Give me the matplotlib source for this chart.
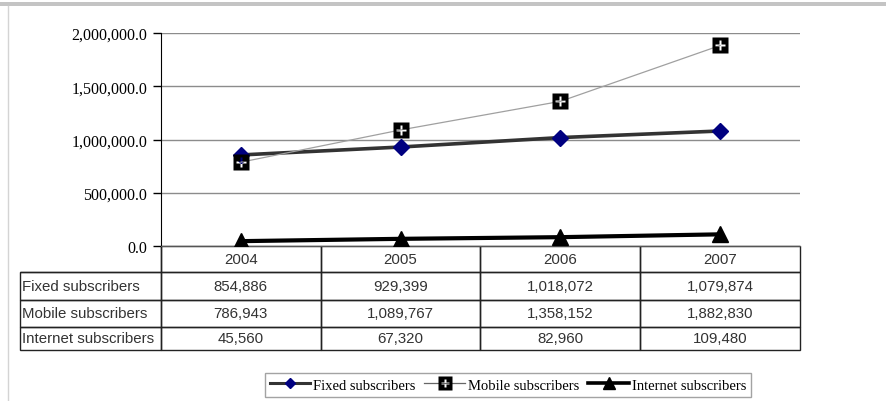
import matplotlib.pyplot as plt
from matplotlib.lines import Line2D
from matplotlib.patches import Rectangle
from matplotlib.path import Path
from matplotlib.table import Table
from matplotlib.ticker import FuncFormatter

anos = ['2004', '2005', '2006', '2007']
series_nomes = ['Fixed subscribers', 'Mobile subscribers', 'Internet subscribers']
fixos = [854886, 929399, 1018072, 1079874]
moveis = [786943, 1089767, 1358152, 1882830]
internet = [45560, 67320, 82960, 109480]
y_ticks = [0, 500000, 1000000, 1500000, 2000000]

W, H = 887, 402
fig = plt.figure(figsize=(W / 100, H / 100), dpi=100)

# marcador: quadrado preto com "+" vazado (sentidos opostos -> furo)
a, e = 0.17, 0.62
quad = [(-1, -1), (1, -1), (1, 1), (-1, 1), (-1, -1)]
mais = [(-a, -e), (-a, -a), (-e, -a), (-e, a), (-a, a), (-a, e), (a, e),
        (a, a), (e, a), (e, -a), (a, -a), (a, -e), (-a, -e)]
codes = ([Path.MOVETO] + [Path.LINETO] * 3 + [Path.CLOSEPOLY] +
         [Path.MOVETO] + [Path.LINETO] * 11 + [Path.CLOSEPOLY])
marcador_movel = Path(quad + mais, codes)

# area do grafico em pixels (esq, topo, dir, base)
px_l, px_t, px_r, px_b = 161, 34, 800, 247
ax = fig.add_axes([px_l / W, 1 - px_b / H, (px_r - px_l) / W, (px_b - px_t) / H])

x = list(range(len(anos)))

ax.plot(x, fixos, color='#333333', lw=2.6, marker='D', ms=8,
        markerfacecolor='#000080', markeredgecolor='#000080', zorder=4)
ax.plot(x, moveis, color='#a0a0a0', lw=0.9, marker=marcador_movel, ms=11,
        markerfacecolor='black', markeredgecolor='none', zorder=5)
ax.plot(x, internet, color='black', lw=3, marker='^', ms=12,
        markerfacecolor='black', markeredgecolor='black', zorder=4)

ax.set_xlim(-0.5, len(anos) - 0.5)
ax.set_ylim(0, 2000000)
ax.set_yticks(y_ticks)
ax.yaxis.set_major_formatter(FuncFormatter(lambda v, p: f'{v:,.1f}'))
for lbl in ax.get_yticklabels():
    lbl.set_fontfamily('Liberation Serif')
    lbl.set_fontsize(11.5)
ax.tick_params(axis='y', length=6, width=1, color='black', pad=4)
ax.tick_params(axis='x', bottom=False, labelbottom=False)
ax.grid(axis='y', color='#8c8c8c', lw=1)
ax.set_axisbelow(True)
for s in ['top', 'right']:
    ax.spines[s].set_visible(False)
ax.spines['left'].set_color('black')
ax.spines['bottom'].set_color('#555555')

# tabela de dados abaixo do grafico
larg_ax = px_r - px_l
alt_ax = px_b - px_t
tab_l, tab_b = 20, 351
tab = Table(ax, bbox=[(tab_l - px_l) / larg_ax, -(tab_b - px_b) / alt_ax,
                      (px_r - tab_l) / larg_ax, (tab_b - px_b) / alt_ax])
larguras = [141] + [160] * len(anos)
alturas = [26, 28, 27, 23]
cab = [''] + anos
for c, t in enumerate(cab):
    tab.add_cell(0, c, larguras[c], alturas[0], text=t, loc='center')
linhas = [fixos, moveis, internet]
for r, (nome, linha) in enumerate(zip(series_nomes, linhas), start=1):
    tab.add_cell(r, 0, larguras[0], alturas[r], text=nome, loc='left')
    for c, v in enumerate(linha, start=1):
        tab.add_cell(r, c, larguras[c], alturas[r], text=f'{v:,}', loc='center')
tab.auto_set_font_size(False)
tab.set_fontsize(10.8)
for (r, c), cell in tab.get_celld().items():
    cell.set_edgecolor('#222222')
    cell.set_facecolor('none')
    cell.set_linewidth(1)
    cell.get_text().set_fontfamily('Liberation Sans')
    cell.get_text().set_color('#333333')
    if c == 0:
        cell.PAD = 0.012
tab[0, 0].visible_edges = 'BR'
ax.add_table(tab)

# legenda
h_fixo = Line2D([], [], color='#333333', lw=2.2, marker='D', ms=5,
                markerfacecolor='#000080', markeredgecolor='#000080')
h_movel = Line2D([], [], color='#666666', lw=0.9, marker=marcador_movel, ms=10,
                 markerfacecolor='black', markeredgecolor='none')
h_net = Line2D([], [], color='black', lw=2.6, marker='^', ms=8,
               markerfacecolor='black', markeredgecolor='black')
leg = fig.legend([h_fixo, h_movel, h_net], series_nomes,
                 loc='center', bbox_to_anchor=(508 / W, 1 - 386 / H), ncol=3,
                 frameon=True, fancybox=False, edgecolor='#8c8c8c',
                 handlelength=2.8, handletextpad=0.2, columnspacing=0.6,
                 borderpad=0.35, prop={'family': 'Liberation Serif', 'size': 10.5})
leg.get_frame().set_linewidth(1)

# moldura cinza da imagem
fig.add_artist(Rectangle((0, 1 - 7 / H), 1, 4 / H, transform=fig.transFigure,
                         facecolor='#c4c4c4', edgecolor='none'))
fig.add_artist(Line2D([8 / W, 8 / W], [0, 1 - 7 / H], transform=fig.transFigure,
                      color='#d4d4d4', lw=1))

fig.savefig('out.png', dpi=100)
